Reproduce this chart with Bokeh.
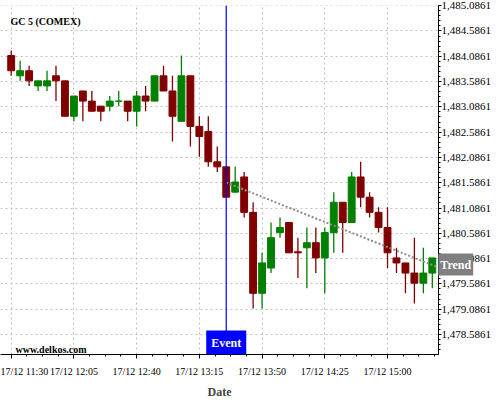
import pandas as pd
import numpy as np
from bokeh.plotting import figure
from bokeh.models import (ColumnDataSource, FixedTicker, NumeralTickFormatter,
                          DatetimeTickFormatter, Span, Label, Range1d)
from bokeh.core.properties import value
from bokeh.embed import file_html
from bokeh.resources import INLINE

# ---------------- data ----------------
day = "2015-12-17"
start_time = "11:30"
n_candles = 48
opens = [1484.1, 1483.7, 1483.8, 1483.5, 1483.5, 1483.7, 1483.6, 1482.9, 1483.4, 1483.2,
         1483.1, 1483.1, 1483.2, 1483.2, 1483.0, 1483.3, 1483.2, 1483.7, 1483.4, 1482.8,
         1483.7, 1482.7, 1482.6, 1482.0, 1481.9, 1481.4, 1481.7, 1481.0, 1479.4, 1479.9,
         1480.6, 1480.8, 1480.22, 1480.3, 1480.4, 1480.1, 1480.6, 1481.2, 1480.8, 1481.7,
         1481.3, 1481.0, 1480.7, 1480.1, 1480.0, 1479.8, 1479.6, 1479.8]
highs = [1484.2, 1484.0, 1483.9, 1483.6, 1483.8, 1483.9, 1483.6, 1483.3, 1483.4, 1483.4,
         1483.1, 1483.3, 1483.4, 1483.2, 1483.4, 1483.5, 1483.7, 1483.9, 1483.7, 1484.1,
         1483.7, 1482.9, 1482.9, 1482.3, 1481.9, 1481.9, 1481.8, 1481.2, 1480.2, 1480.8,
         1480.9, 1480.8, 1480.5, 1480.7, 1480.7, 1480.7, 1481.4, 1481.2, 1481.8, 1482.0,
         1481.4, 1481.1, 1481.1, 1480.3, 1480.0, 1480.5, 1480.3, 1480.1]
lows = [1483.7, 1483.6, 1483.5, 1483.4, 1483.4, 1483.2, 1482.9, 1482.8, 1482.8, 1483.0,
        1482.8, 1483.0, 1483.1, 1482.8, 1482.7, 1483.0, 1483.2, 1483.4, 1482.4, 1482.8,
        1482.3, 1482.1, 1481.9, 1481.8, 1481.3, 1481.4, 1480.9, 1479.1, 1479.1, 1479.8,
        1480.5, 1480.2, 1479.7, 1479.5, 1479.8, 1479.4, 1480.2, 1480.2, 1480.8, 1481.1,
        1480.9, 1480.6, 1479.9, 1479.8, 1479.4, 1479.2, 1479.4, 1479.5]
closes = [1483.8, 1483.8, 1483.6, 1483.6, 1483.6, 1483.6, 1482.9, 1483.3, 1483.2, 1483.0,
          1483.0, 1483.2, 1483.2, 1483.0, 1483.3, 1483.2, 1483.7, 1483.4, 1482.9, 1483.7,
          1482.7, 1482.5, 1482.0, 1481.9, 1481.3, 1481.6, 1481.0, 1479.4, 1480.0, 1480.5,
          1480.7, 1480.2, 1480.2, 1480.4, 1480.1, 1480.6, 1481.2, 1480.8, 1481.7, 1481.3,
          1481.0, 1480.7, 1480.2, 1480.0, 1479.8, 1479.6, 1479.8, 1480.1]

event_time = "13:30"
trend_times = ["13:30", "15:28:27"]
trend_values = [1481.59, 1479.91]

x_tick_times = ["11:30", "12:05", "12:40", "13:15", "13:50", "14:25", "15:00"]
y_ticks = [1478.5861, 1479.0861, 1479.5861, 1480.0861, 1480.5861, 1481.0861, 1481.5861,
           1482.0861, 1482.5861, 1483.0861, 1483.5861, 1484.0861, 1484.5861, 1485.0861]
x_view = ["11:24:02", "15:28:27"]
y_view = [1478.19, 1485.09]

title_text = "GC 5 (COMEX)"
site_text = "www.delkos.com"
event_text = "Event"
trend_text = "Trend"

# ---------------- helpers ----------------
UP, DOWN = "#008000", "#800000"
FONT = "Liberation Serif"

def ts(t):
    return pd.Timestamp(f"{day} {t}")

def ms(t):
    return ts(t).value // 10**6

times = pd.date_range(ts(start_time), periods=n_candles, freq="5min")
colors = [UP if c >= o else DOWN for o, c in zip(opens, closes)]
src = ColumnDataSource(dict(
    t=times, o=opens, h=highs, l=lows, c=closes,
    top=[max(o, c) for o, c in zip(opens, closes)],
    bot=[min(o, c) for o, c in zip(opens, closes)],
    color=colors,
))

p = figure(x_axis_type="datetime", y_axis_location="right",
           frame_width=438, frame_height=349,
           x_range=Range1d(ts(x_view[0]), ts(x_view[1])),
           y_range=Range1d(*y_view),
           output_backend="svg", toolbar_location=None,
           min_border_left=0, min_border_top=5, min_border_right=54,
           min_border_bottom=44, margin=(0, 0, 0, 0),
           outline_line_color=None, background_fill_color="white")

# grid
for g in (p.xgrid, p.ygrid):
    g.grid_line_color = "#c0c0c0"
    g.grid_line_dash = "2 3"
    g.grid_line_width = 1

# x axis
x_major = [ms(t) for t in x_tick_times]
step = (x_major[1] - x_major[0]) / 4
x_minor = list(np.arange(x_major[0] - 4 * step, x_major[-1] + 4 * step, step))
p.xaxis.ticker = FixedTicker(ticks=x_major, minor_ticks=x_minor)
fmt = "%d/%m %H:%M"
p.xaxis.formatter = DatetimeTickFormatter(minutes=fmt, hourmin=fmt, hours=fmt, minsec=fmt,
                                          seconds=fmt, days=fmt, context=None)
p.xaxis.axis_label = "Date"
p.xaxis.axis_label_text_font = FONT
p.xaxis.axis_label_text_font_style = "bold"
p.xaxis.axis_label_text_font_size = "12px"
p.xaxis.axis_label_standoff = 5
p.xaxis.major_label_text_font = FONT
p.xaxis.major_label_text_font_size = "10px"
p.xaxis.major_label_standoff = 7
p.xaxis.major_tick_out = 4
p.xaxis.major_tick_in = 0
p.xaxis.minor_tick_out = 2
p.xaxis.minor_tick_in = 0

# y axis
y_minor = list(np.round(np.arange(y_ticks[0] - 0.4, y_ticks[-1] + 0.05, 0.1), 4))
p.yaxis.ticker = FixedTicker(ticks=y_ticks, minor_ticks=y_minor)
p.yaxis.formatter = NumeralTickFormatter(format="0,0.0000")
p.yaxis.major_label_text_font = FONT
p.yaxis.major_label_text_font_size = "11px"
p.yaxis.major_label_standoff = 0
p.yaxis.major_tick_out = 3
p.yaxis.major_tick_in = 0
p.yaxis.minor_tick_out = 2
p.yaxis.minor_tick_in = 0

for ax in (p.xaxis[0], p.yaxis[0]):
    ax.axis_line_color = "black"
    ax.major_tick_line_color = "black"
    ax.minor_tick_line_color = "black"
    ax.major_label_text_color = "black"

# candles
p.segment(x0="t", x1="t", y0="h", y1="l", color="color", line_width=1.3, source=src)
p.vbar(x="t", width=230000, top="top", bottom="bot", fill_color="color",
       line_color="color", line_width=1, source=src)

# trend line
p.line([ts(t) for t in trend_times], trend_values, line_color="#8c8c8c",
       line_width=2, line_dash="2 2")

# event line
p.add_layout(Span(location=ms(event_time), dimension="height",
                  line_color="#0000ff", line_width=1.2))

p.add_layout(Label(x=ts(event_time), y=y_view[0], text=event_text, anchor="bottom_center",
                   text_font=FONT, text_font_style="bold", text_font_size="12px",
                   text_color="white", background_fill_color="#0000ff", padding=5))

# trend tag: drawn as an overlay-level text glyph so it can sit on the axis strip
p.text(x=[times[-1]], y=[trend_values[-1]], text=[trend_text], x_offset=6, y_offset=-3,
       anchor="center_left", text_font=value(FONT), text_font_style="bold",
       text_font_size="12px", text_color="white", background_fill_color="#808080",
       padding=(2, 4), level="overlay")

p.add_layout(Label(x=ts(x_view[0]), y=y_view[1], x_offset=10, y_offset=-16,
                   text=title_text, text_align="left", text_baseline="middle",
                   text_font=FONT, text_font_style="bold", text_font_size="10px",
                   text_color="black"))

p.add_layout(Label(x=ts(x_view[0]), y=y_view[0], x_offset=15, y_offset=5.5,
                   text=site_text, text_align="left", text_baseline="middle",
                   text_font=FONT, text_font_style="bold", text_font_size="10px",
                   text_color="black"))

open("out.html", "w").write(file_html(p, INLINE))
